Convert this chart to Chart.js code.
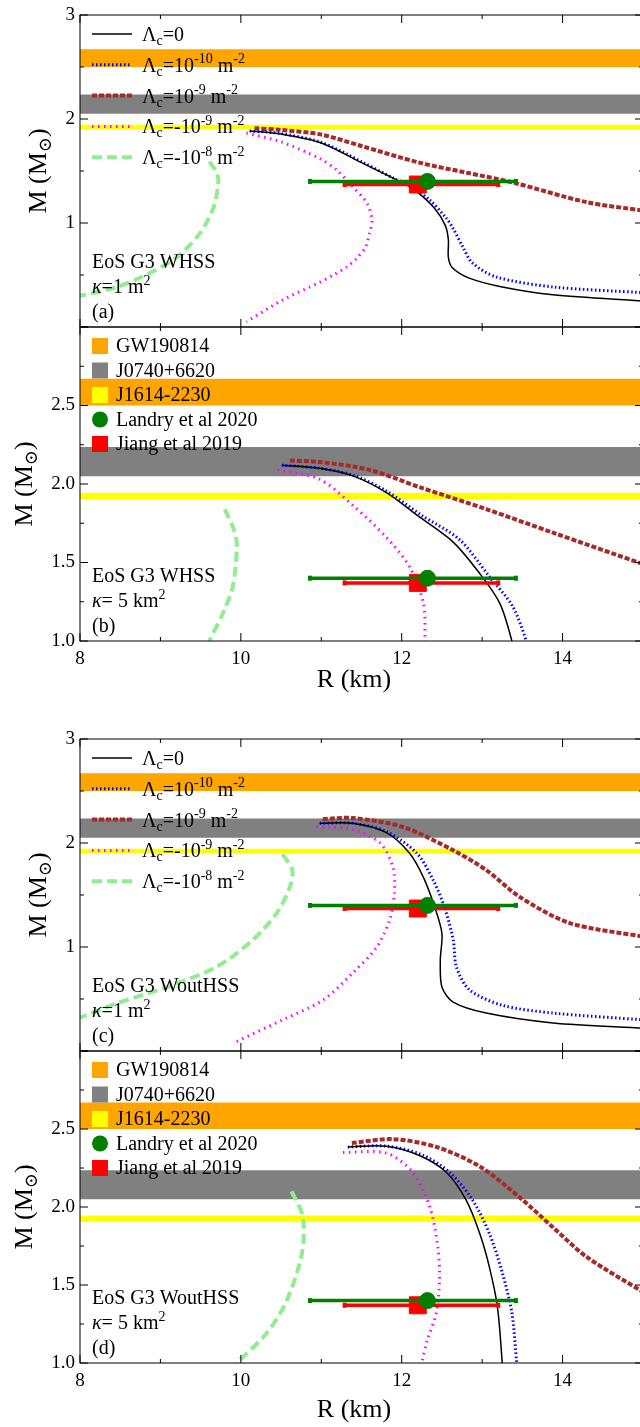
<!DOCTYPE html>
<html>
<head>
<meta charset="utf-8">
<title>Mass-radius curves</title>
<script src="https://cdn.jsdelivr.net/npm/chart.js@4.4.1/dist/chart.umd.min.js"></script>
<style>
  html, body { margin: 0; padding: 0; background: #fff; overflow: hidden; }
  body { width: 640px; height: 1427px; position: relative; }
  canvas { position: absolute; left: 0; }
</style>
</head>
<body>
<canvas id="panelA" width="643" height="328" style="top:0px"></canvas>
<canvas id="panelB" width="643" height="374" style="top:326px"></canvas>
<canvas id="panelC" width="643" height="353" style="top:699px"></canvas>
<canvas id="panelD" width="643" height="377" style="top:1050px"></canvas>
<script>
// [R (km), M (Msun)]

// (a) EoS G3 WHSS, kappa = 1 m^2
const aLam0   = [[10.11,1.885],[10.5,1.855],[11.0,1.77],[11.5,1.58],[12.0,1.39],[12.19,1.30],[12.41,1.14],[12.54,0.98],[12.58,0.84],[12.58,0.67],[12.63,0.57],[12.84,0.47],[13.25,0.385],[13.88,0.31],[15.0,0.25]];
const aLamP10 = [[10.11,1.885],[10.5,1.86],[11.0,1.775],[11.5,1.59],[11.9,1.43],[12.1,1.36],[12.35,1.22],[12.55,1.05],[12.63,0.96],[12.76,0.77],[12.88,0.615],[13.18,0.48],[13.88,0.385],[15.0,0.33]];
const aLamP9  = [[10.17,1.91],[10.5,1.895],[11.0,1.85],[11.5,1.74],[12.22,1.58],[12.8,1.485],[13.38,1.39],[14.3,1.20],[15.0,1.12]];
const aLamM9  = [[10.07,1.865],[10.5,1.78],[10.98,1.62],[11.19,1.51],[11.39,1.35],[11.57,1.19],[11.63,1.03],[11.6,0.90],[11.55,0.77],[11.44,0.66],[11.32,0.58],[11.15,0.50],[10.98,0.43],[10.52,0.26],[10.07,0.05]];
const aLamM8  = [[9.61,1.59],[9.70,1.48],[9.72,1.39],[9.66,1.15],[9.49,0.90],[9.2,0.67],[8.87,0.52],[8.46,0.385],[8.0,0.30]];

// (b) EoS G3 WHSS, kappa = 5 km^2
const bLam0   = [[10.51,2.12],[10.98,2.10],[11.4,2.05],[11.81,1.945],[12.22,1.79],[12.64,1.63],[12.97,1.43],[13.22,1.24],[13.37,1.0],[13.4,0.9]];
const bLamP10 = [[10.51,2.12],[10.98,2.10],[11.4,2.055],[11.81,1.955],[12.25,1.80],[12.72,1.645],[13.09,1.41],[13.38,1.22],[13.55,1.0],[13.6,0.9]];
const bLamP9  = [[10.61,2.15],[10.98,2.14],[11.6,2.09],[12.22,1.98],[13.05,1.84],[13.88,1.69],[15.0,1.49]];
const bLamM9  = [[10.46,2.09],[10.98,2.03],[11.4,1.86],[11.81,1.66],[12.1,1.47],[12.27,1.24],[12.29,1.0],[12.29,0.9]];
const bLamM8  = [[9.8,1.84],[9.92,1.70],[9.95,1.60],[9.9,1.35],[9.78,1.18],[9.61,1.0],[9.55,0.92]];

// (c) EoS G3 WoutHSS, kappa = 1 m^2
const cLam0   = [[10.98,2.19],[11.39,2.19],[11.81,2.10],[12.1,1.90],[12.27,1.67],[12.41,1.385],[12.5,1.13],[12.48,0.875],[12.5,0.615],[12.64,0.47],[13.05,0.365],[13.88,0.27],[15.0,0.22]];
const cLamP10 = [[10.98,2.19],[11.39,2.19],[11.81,2.11],[12.19,1.90],[12.39,1.645],[12.53,1.385],[12.64,1.07],[12.68,0.81],[12.84,0.59],[13.25,0.44],[13.88,0.365],[15.0,0.30]];
const cLamP9  = [[11.02,2.23],[11.39,2.24],[12.01,2.155],[12.64,1.93],[13.05,1.74],[13.47,1.48],[14.09,1.23],[15.0,1.10]];
const cLamM9  = [[10.94,2.16],[11.39,2.13],[11.73,2.0],[11.89,1.77],[11.91,1.52],[11.85,1.26],[11.69,1.0],[11.39,0.75],[11.02,0.49],[10.52,0.30],[9.9,0.075]];
const cLamM8  = [[10.52,1.89],[10.64,1.74],[10.61,1.58],[10.45,1.33],[10.15,1.07],[9.7,0.81],[9.08,0.615],[8.46,0.46],[8.0,0.32]];

// (d) EoS G3 WoutHSS, kappa = 5 km^2
const dLam0   = [[11.33,2.385],[11.81,2.39],[12.22,2.33],[12.56,2.22],[12.8,2.045],[12.97,1.83],[13.09,1.615],[13.19,1.36],[13.25,1.0],[13.26,0.9]];
const dLamP10 = [[11.33,2.385],[11.81,2.39],[12.25,2.335],[12.6,2.22],[12.88,2.045],[13.09,1.83],[13.25,1.58],[13.37,1.32],[13.43,1.0],[13.45,0.9]];
const dLamP9  = [[11.38,2.41],[11.89,2.435],[12.43,2.385],[12.97,2.26],[13.47,2.06],[13.88,1.87],[14.3,1.68],[15.0,1.455]];
const dLamM9  = [[11.27,2.35],[11.81,2.345],[12.14,2.22],[12.35,2.0],[12.45,1.74],[12.47,1.53],[12.43,1.32],[12.32,1.15],[12.25,1.0],[12.22,0.9]];
const dLamM8  = [[10.63,2.10],[10.77,1.94],[10.76,1.705],[10.57,1.40],[10.32,1.19],[9.95,1.0],[9.88,0.95]];

// observational bands
const bandNames  = ['GW190814', 'J0740+6620', 'J1614-2230'];
const bandLow    = [2.50, 2.05, 1.905];
const bandHigh   = [2.67, 2.235, 1.945];
const bandColors = ['#FFA500', '#808080', '#FFFF00'];

// radius estimates at ~1.4 Msun
const obsNames  = ['Landry et al 2020', 'Jiang et al 2019'];
const obsR      = [12.32, 12.2];
const obsM      = [1.40, 1.37];
const obsRLow   = [10.86, 11.29];
const obsRHigh  = [13.42, 13.2];
const obsColors = ['#008000', '#FF0000'];

// axes
const xMin = 8, xMax = 15;
const xTicks = [8, 10, 12, 14];
const xMinor = [9, 11, 13, 15];
const yTicksFull  = [0, 1, 2, 3];
const yLabelsFull = ['', '1', '2', '3'];
const yMinorFull  = [0.5, 1.5, 2.5];
const yTicksZoom  = [1, 1.5, 2, 2.5, 3];
const yLabelsZoom = ['1.0', '1.5', '2.0', '2.5', ''];
const yMinorZoom  = [1.25, 1.75, 2.25, 2.75];

const lambdaLabels = [
  [['Λ'], ['c', 'sub'], ['=0']],
  [['Λ'], ['c', 'sub'], ['=10'], ['-10', 'sup'], [' m'], ['-2', 'sup']],
  [['Λ'], ['c', 'sub'], ['=10'], ['-9', 'sup'], [' m'], ['-2', 'sup']],
  [['Λ'], ['c', 'sub'], ['=-10'], ['-9', 'sup'], [' m'], ['-2', 'sup']],
  [['Λ'], ['c', 'sub'], ['=-10'], ['-8', 'sup'], [' m'], ['-2', 'sup']]
];

const curveStyles = [
  { color: '#000000', width: 1.5, dash: [] },
  { color: '#0000FF', width: 3, dash: [1.5, 2.5] },
  { color: '#A52A2A', width: 4, dash: [5, 2] },
  { color: '#FF00FF', width: 3, dash: [1.5, 4.5] },
  { color: '#90EE90', width: 4, dash: [10, 5] }
];

const FONT = '"Liberation Serif", "DejaVu Serif", serif';

function drawRich(ctx, parts, x, y, size, align) {
  const small = Math.round(size * 0.7);
  let w = 0;
  const segs = parts.map(([t, k]) => {
    const fs = (k === 'sub' || k === 'sup') ? small : size;
    const font = (k === 'it' ? 'italic ' : '') + fs + 'px ' + FONT;
    ctx.font = font;
    const sw = ctx.measureText(t).width;
    const s = { t, font, x: w, dy: k === 'sub' ? size * 0.2 : (k === 'sup' ? -size * 0.42 : 0) };
    w += sw;
    return s;
  });
  const x0 = align === 'center' ? x - w / 2 : x;
  ctx.textAlign = 'left';
  ctx.textBaseline = 'alphabetic';
  segs.forEach(s => {
    ctx.font = s.font;
    ctx.fillText(s.t, x0 + s.x, y + s.dy);
  });
}

function makeDeco(p) {
  return {
    id: 'deco',
    afterDatasetsDraw(chart) {
      const ctx = chart.ctx, a = chart.chartArea;
      ctx.save();
      ctx.fillStyle = '#000';
      if (p.legend === 'lines') {
        lambdaLabels.forEach((parts, i) => {
          const st = curveStyles[i];
          const yb = a.top + 26 + i * 30.8;
          ctx.beginPath();
          ctx.strokeStyle = st.color;
          ctx.lineWidth = st.width;
          ctx.setLineDash(st.dash);
          ctx.moveTo(a.left + 12, yb - 7);
          ctx.lineTo(a.left + 52, yb - 7);
          ctx.stroke();
          ctx.setLineDash([]);
          ctx.fillStyle = '#000';
          drawRich(ctx, parts, a.left + 62, yb, 20);
        });
      } else {
        const items = bandNames.map((n, i) => ({ label: n, color: bandColors[i], kind: 'box' }))
          .concat([{ label: obsNames[0], color: obsColors[0], kind: 'dot' },
                   { label: obsNames[1], color: obsColors[1], kind: 'box' }]);
        items.forEach((it, i) => {
          const cy = a.top + 19 + i * 24.5;
          ctx.fillStyle = it.color;
          if (it.kind === 'box') {
            ctx.fillRect(a.left + 12, cy - 8, 16, 16);
          } else {
            ctx.beginPath();
            ctx.arc(a.left + 20, cy, 8, 0, Math.PI * 2);
            ctx.fill();
          }
          ctx.fillStyle = '#000';
          drawRich(ctx, [[it.label]], a.left + 36, cy + 6, 20);
        });
      }
      p.notes.forEach((parts, i) => drawRich(ctx, parts, a.left + 12, a.bottom - 59 + i * 25, 20));
      ctx.restore();
    },
    afterDraw(chart) {
      const ctx = chart.ctx, a = chart.chartArea;
      const sx = chart.scales.x, sy = chart.scales.y;
      ctx.save();
      ctx.strokeStyle = '#000';
      ctx.lineWidth = 1;
      ctx.strokeRect(a.left, a.top, a.right - a.left, a.bottom - a.top);
      ctx.beginPath();
      const tickX = (v, len) => {
        const px = sx.getPixelForValue(v);
        ctx.moveTo(px, a.bottom); ctx.lineTo(px, a.bottom - len);
        ctx.moveTo(px, a.top); ctx.lineTo(px, a.top + len);
      };
      const tickY = (v, len) => {
        const py = sy.getPixelForValue(v);
        ctx.moveTo(a.left, py); ctx.lineTo(a.left + len, py);
        ctx.moveTo(a.right, py); ctx.lineTo(a.right - len, py);
      };
      xTicks.forEach(v => tickX(v, 8));
      xMinor.forEach(v => tickX(v, 4));
      p.yTicks.forEach(v => tickY(v, 8));
      p.yMinor.forEach(v => tickY(v, 4));
      ctx.stroke();

      ctx.fillStyle = '#000';
      ctx.save();
      ctx.translate(p.yTitleX, (a.top + a.bottom) / 2);
      ctx.rotate(-Math.PI / 2);
      drawRich(ctx, [['M (M'], ['⊙', 'sub'], [')']], 0, 0, 26, 'center');
      ctx.restore();
      if (p.xTitleDy) {
        drawRich(ctx, [['R (km)']], 354, a.bottom + p.xTitleDy, 26, 'center');
      }
      ctx.restore();
    }
  };
}

function noPadding(s) {
  s.paddingTop = 0;
  s.paddingBottom = 0;
  s.paddingLeft = 0;
  s.paddingRight = 0;
}

function buildDatasets(curves) {
  const ds = [];
  bandLow.forEach((lo, i) => ds.push({
    data: [{ x: xMin, y: bandHigh[i] }, { x: xMax, y: bandHigh[i] }],
    showLine: true, pointRadius: 0, borderWidth: 0, borderColor: 'rgba(0,0,0,0)',
    backgroundColor: bandColors[i], fill: { value: lo }, order: 30 + i
  }));
  curves.forEach((pts, i) => ds.push({
    data: pts.map(([x, y]) => ({ x, y })),
    showLine: true, pointRadius: 0, fill: false, tension: 0.3,
    borderColor: curveStyles[i].color, borderWidth: curveStyles[i].width,
    borderDash: curveStyles[i].dash, order: 10 + i
  }));
  // error bars and markers; lower order is drawn on top, so green sits over red
  obsR.forEach((r, i) => {
    ds.push({
      data: [{ x: obsRLow[i], y: obsM[i] }, { x: obsRHigh[i], y: obsM[i] }],
      showLine: true, borderColor: obsColors[i], borderWidth: 3.5,
      pointStyle: 'line', pointRadius: 2.5, pointBorderWidth: 4, pointRotation: 90,
      pointBorderColor: obsColors[i], pointBackgroundColor: obsColors[i], order: 1 + 2 * i
    });
    ds.push({
      data: [{ x: r, y: obsM[i] }],
      showLine: false, pointStyle: i === 0 ? 'circle' : 'rect',
      pointRadius: i === 0 ? 8 : 12, pointBorderWidth: 1,
      pointBackgroundColor: obsColors[i], pointBorderColor: obsColors[i], order: 2 * i
    });
  });
  return ds;
}

const panels = [
  { id: 'panelA', curves: [aLam0, aLamP10, aLamP9, aLamM9, aLamM8], yTicks: yTicksFull, yLabels: yLabelsFull, yMinor: yMinorFull,
    pad: { top: 15, bottom: 1 }, xHeight: 0, legend: 'lines', yTitleX: 46, xTitleDy: 0,
    notes: [[['EoS G3 WHSS']], [['κ', 'it'], ['=1 m'], ['2', 'sup']], [['(a)']]] },
  { id: 'panelB', curves: [bLam0, bLamP10, bLamP9, bLamM9, bLamM8], yTicks: yTicksZoom, yLabels: yLabelsZoom, yMinor: yMinorZoom,
    pad: { top: 1, bottom: 0 }, xHeight: 59, legend: 'marks', yTitleX: 32, xTitleDy: 46,
    notes: [[['EoS G3 WHSS']], [['κ', 'it'], ['= 5 km'], ['2', 'sup']], [['(b)']]] },
  { id: 'panelC', curves: [cLam0, cLamP10, cLamP9, cLamM9, cLamM8], yTicks: yTicksFull, yLabels: yLabelsFull, yMinor: yMinorFull,
    pad: { top: 40, bottom: 1 }, xHeight: 0, legend: 'lines', yTitleX: 46, xTitleDy: 0,
    notes: [[['EoS G3 WoutHSS']], [['κ', 'it'], ['=1 m'], ['2', 'sup']], [['(c)']]] },
  { id: 'panelD', curves: [dLam0, dLamP10, dLamP9, dLamM9, dLamM8], yTicks: yTicksZoom, yLabels: yLabelsZoom, yMinor: yMinorZoom,
    pad: { top: 1, bottom: 0 }, xHeight: 64, legend: 'marks', yTitleX: 32, xTitleDy: 54,
    notes: [[['EoS G3 WoutHSS']], [['κ', 'it'], ['= 5 km'], ['2', 'sup']], [['(d)']]] }
];

panels.forEach(p => {
  const ctx = document.getElementById(p.id).getContext('2d');
  new Chart(ctx, {
    type: 'scatter',
    data: { datasets: buildDatasets(p.curves) },
    options: {
      responsive: false,
      animation: false,
      events: [],
      layout: { autoPadding: false, padding: { top: p.pad.top, bottom: p.pad.bottom, left: 0, right: 0 } },
      plugins: { legend: { display: false }, tooltip: { enabled: false } },
      scales: {
        x: {
          type: 'linear', min: xMin, max: xMax,
          afterBuildTicks: s => { s.ticks = xTicks.map(v => ({ value: v })); },
          afterFit: s => { s.height = p.xHeight; noPadding(s); },
          ticks: {
            display: p.xHeight > 0, autoSkip: false, maxRotation: 0, padding: 7, color: '#000',
            font: { family: FONT, size: 19 }, callback: v => String(v)
          },
          grid: { display: false, drawTicks: false },
          border: { display: false }
        },
        y: {
          type: 'linear', min: p.yTicks[0], max: p.yTicks[p.yTicks.length - 1],
          afterBuildTicks: s => { s.ticks = p.yTicks.map(v => ({ value: v })); },
          afterFit: s => { s.width = 80; noPadding(s); },
          ticks: {
            autoSkip: false, padding: 5, color: '#000',
            font: { family: FONT, size: 19 },
            callback: v => p.yLabels[p.yTicks.indexOf(v)]
          },
          grid: { display: false, drawTicks: false },
          border: { display: false }
        }
      }
    },
    plugins: [makeDeco(p)]
  });
});
</script>
</body>
</html>
